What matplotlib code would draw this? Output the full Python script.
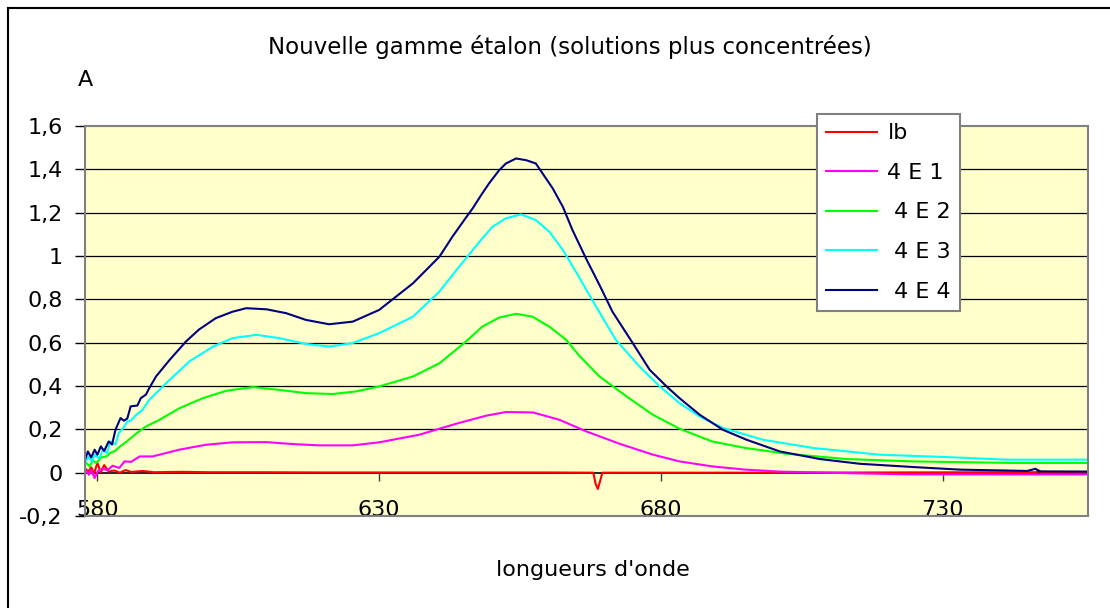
import matplotlib
matplotlib.use('Agg')
import matplotlib.pyplot as plt
from matplotlib.lines import Line2D
from matplotlib.ticker import FixedLocator, FuncFormatter

plt.rcParams['font.family'] = ['DejaVu Sans']

# spectra: wavelength (nm) / absorbance
wl_lb = [577.8, 578.4, 578.9, 579.4, 580.0, 580.6, 581.2, 582.0, 583.0, 584.0, 585.0, 586.0,
         588.0, 590, 595, 600, 610, 620, 640, 660, 668.0, 668.4, 668.8, 669.2, 669.6,
         700, 740, 746.6, 747.0, 747.4, 755.8]
a_lb = [0.02, 0.005, 0.025, -0.005, 0.045, 0.0, 0.035, 0.005, 0.01, 0.0, 0.012, 0.003,
        0.008, 0.002, 0.004, 0.002, 0.002, 0.001, 0.001, 0.001, 0.0, -0.05, -0.075, -0.04, 0.0,
        0.0, 0.002, 0.002, 0.012, 0.002, 0.002]

wl_4e1 = [577.8, 578.5, 578.9, 579.5, 580.1, 580.9, 581.8, 582.7, 583.9, 584.8, 586.0, 587.5,
          589.8, 594.5, 599.3, 604, 609.9, 614.7, 619.4, 625.3, 630, 637.1, 643.7, 649, 652.5,
          657.3, 662, 666.8, 672.6, 678.6, 683.3, 689.1, 695, 701.1, 712.8, 724.6, 755.8]
a_4e1 = [0.014, -0.01, 0.012, -0.025, 0.008, 0.018, 0.012, 0.032, 0.022, 0.052, 0.05, 0.075,
         0.075, 0.106, 0.129, 0.14, 0.141, 0.132, 0.126, 0.126, 0.14, 0.175, 0.226, 0.263, 0.28,
         0.278, 0.244, 0.19, 0.134, 0.083, 0.052, 0.029, 0.014, 0.005, -0.002, -0.008, -0.008]

wl_4e2 = [577.8, 578.6, 579.2, 579.8, 580.7, 581.6, 582.2, 583.1, 584.0, 585.2, 587.0, 588.6,
          591.0, 594.6, 598.7, 602.9, 607.6, 612.3, 617, 621.8, 625.9, 630, 636, 640.7, 645.4,
          648.3, 651.3, 654.3, 657.2, 660.2, 663.2, 665.5, 669.1, 673.9, 678.6, 683.3, 689.1,
          695, 702.1, 712.8, 724.6, 742.4, 755.8]
a_4e2 = [0.05, 0.03, 0.055, 0.045, 0.07, 0.075, 0.09, 0.1, 0.121, 0.144, 0.183, 0.213,
         0.244, 0.298, 0.344, 0.378, 0.395, 0.382, 0.367, 0.363, 0.375, 0.398, 0.444, 0.505, 0.605,
         0.674, 0.716, 0.733, 0.72, 0.674, 0.613, 0.54, 0.444, 0.352, 0.267, 0.203, 0.144,
         0.114, 0.088, 0.063, 0.052, 0.045, 0.045]

wl_4e3 = [577.8, 578.4, 579.0, 579.5, 580.3, 581.0, 581.7, 582.3, 583.2, 583.8, 584.7, 585.3,
          585.9, 586.8, 588.0, 589.2, 592.2, 596.3, 600.5, 604, 608.2, 612.3, 617, 621.1, 625.3,
          630, 636, 640.7, 643.0, 645.4, 647.8, 650.1, 652.5, 655.2, 657.8, 660.2, 662.6, 664.9,
          667.3, 669.7, 672.0, 676.2, 679.8, 683.3, 686.9, 691, 698.1, 707, 718.8, 730.7, 741.3,
          755.8]
a_4e3 = [0.045, 0.075, 0.05, 0.083, 0.065, 0.106, 0.09, 0.144, 0.13, 0.183, 0.21, 0.236,
         0.24, 0.265, 0.29, 0.336, 0.413, 0.513, 0.582, 0.621, 0.636, 0.621, 0.594, 0.582, 0.598,
         0.644, 0.72, 0.836, 0.912, 0.989, 1.066, 1.135, 1.174, 1.192, 1.166, 1.112, 1.028, 0.928,
         0.82, 0.713, 0.613, 0.49, 0.398, 0.321, 0.259, 0.206, 0.152, 0.114, 0.083, 0.072, 0.06,
         0.06]

wl_4e4 = [577.8, 578.3, 578.9, 579.5, 580.0, 580.6, 581.2, 582.0, 582.6, 583.2, 584.1, 584.7,
          585.3, 585.9, 587.1, 587.7, 588.6, 589.2, 590.4, 592.8, 595.7, 598, 601, 604, 606.4,
          610, 613.5, 617, 621.1, 625.3, 630, 636, 640.7, 643.0, 645.1, 646.6, 648.1, 649.5,
          651.3, 652.5, 654.3, 656.1, 657.8, 659.0, 660.8, 662.6, 664.3, 666.7, 669.1, 671.4,
          675, 678, 681, 683.3, 686.9, 691, 695.2, 701.1, 708.2, 715.3, 724.8, 733.1, 745,
          746.5, 747, 747.5, 755.8]
a_4e4 = [0.06, 0.098, 0.07, 0.106, 0.083, 0.121, 0.10, 0.144, 0.13, 0.198, 0.252, 0.24,
         0.25, 0.306, 0.31, 0.344, 0.36, 0.39, 0.444, 0.52, 0.605, 0.66, 0.713, 0.743, 0.759,
         0.754, 0.736, 0.705, 0.685, 0.697, 0.751, 0.874, 0.997, 1.089, 1.166, 1.22, 1.281,
         1.335, 1.396, 1.427, 1.45, 1.442, 1.427, 1.381, 1.312, 1.227, 1.12, 0.989, 0.866,
         0.743, 0.598, 0.475, 0.398, 0.344, 0.267, 0.198, 0.152, 0.098, 0.063, 0.041, 0.026,
         0.014, 0.008, 0.018, 0.008, 0.006, 0.005]

labels = ['lb', '4 E 1', ' 4 E 2', ' 4 E 3', ' 4 E 4']
colors = ['#ff0000', '#ff00ff', '#00ff00', '#00ffff', '#000080']
x_ticks = [580, 630, 680, 730]
y_ticks = [-0.2, 0, 0.2, 0.4, 0.6, 0.8, 1, 1.2, 1.4, 1.6]

fig = plt.figure(figsize=(11.1, 6.08), dpi=100)
ax = fig.add_axes([0.0766, 0.1513, 0.9036, 0.6415])
ax.set_facecolor('#ffffcc')

series = [(wl_lb, a_lb), (wl_4e1, a_4e1), (wl_4e2, a_4e2), (wl_4e3, a_4e3), (wl_4e4, a_4e4)]
for (wl, a), lab, c in zip(series, labels, colors):
    ax.plot(wl, a, color=c, lw=1.5, label=lab)

ax.set_xlim(577.8, 755.8)
ax.set_ylim(-0.2, 1.6)

# horizontal grid, black
for y in y_ticks[2:-1]:
    ax.axhline(y, color='black', lw=0.9, zorder=0.5)
ax.axhline(-0.2, color='#808080', lw=1.5, clip_on=False)

for s in ['top', 'right', 'left']:
    ax.spines[s].set_color('#808080')
    ax.spines[s].set_linewidth(1.5)
ax.spines['bottom'].set_position(('data', 0))
ax.spines['bottom'].set_color('black')
ax.spines['bottom'].set_linewidth(1.2)
ax.spines['bottom'].set_zorder(0.6)

ax.xaxis.set_major_locator(FixedLocator(x_ticks))
ax.yaxis.set_major_locator(FixedLocator(y_ticks))
ax.yaxis.set_major_formatter(FuncFormatter(lambda v, p: ('%g' % round(v, 1)).replace('.', ',')))
ax.tick_params(axis='x', direction='out', length=6, width=1, color='#404040',
               pad=14, labelsize=16)
ax.tick_params(axis='y', direction='out', length=7, width=1, color='black',
               pad=9, labelsize=16)

fig.text(0.513, 0.923, 'Nouvelle gamme étalon (solutions plus concentrées)',
         ha='center', va='center', fontsize=16.5)
fig.text(0.070, 0.868, 'A', ha='left', va='center', fontsize=16)
fig.text(0.534, 0.063, "longueurs d'onde", ha='center', va='center', fontsize=16)

leg = ax.legend(loc='upper left', bbox_to_anchor=(817 / 1110, 1 - 114 / 608),
                bbox_transform=fig.transFigure, fontsize=16, frameon=True, fancybox=False,
                framealpha=1, edgecolor='#808080', handlelength=2.3, handletextpad=0.45,
                labelspacing=0.88, borderpad=0.42, borderaxespad=0)
leg.get_frame().set_linewidth(1.5)
for h in leg.get_lines():
    h.set_linewidth(1.5)

# outer chart border (left and top edges)
fig.add_artist(Line2D([8 / 1110, 8 / 1110], [0, 1 - 8 / 608], color='black', lw=1.5))
fig.add_artist(Line2D([8 / 1110, 1], [1 - 8 / 608, 1 - 8 / 608], color='black', lw=1.5))

fig.savefig('out.png', dpi=100)
